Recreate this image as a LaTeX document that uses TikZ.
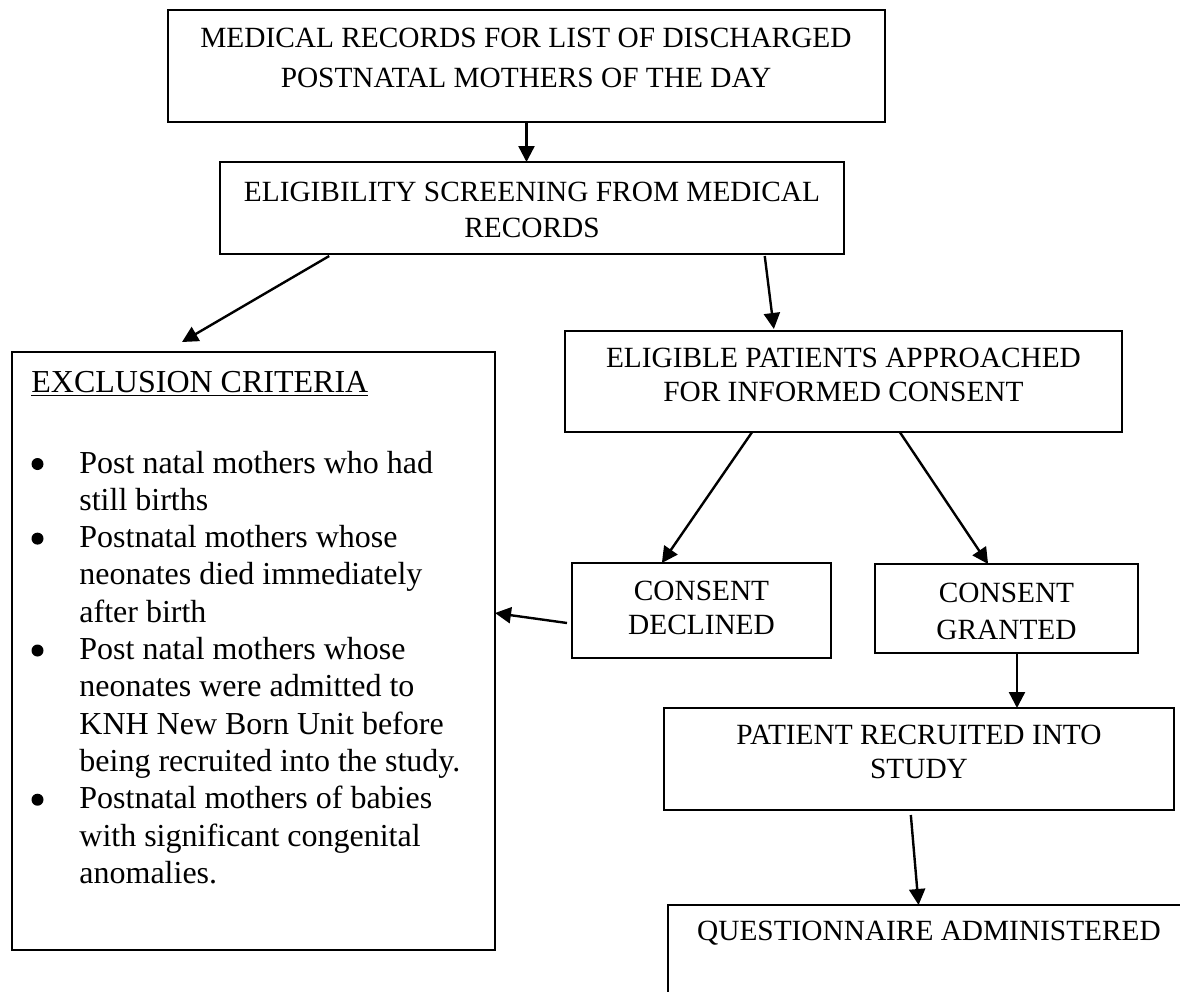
\documentclass[tikz,border=0pt]{standalone}
\usepackage{fontspec}
\setmainfont{Liberation Serif}
\usetikzlibrary{calc,arrows.meta}
\tikzset{
  box/.style={draw, line width=0.9pt, inner sep=0pt, outer sep=0pt},
  txt/.style={align=center, inner sep=0pt, font=\fontsize{14.67}{17}\selectfont},
  ltxt/.style={anchor=base west, inner sep=0pt, font=\fontsize{16}{18.4}\selectfont},
  dot/.style={circle, fill, inner sep=0pt, minimum size=6pt},
  arr/.style={-{Triangle[length=8pt,width=8pt]}, line width=1.2pt},
}
\begin{document}
\begin{tikzpicture}[x=0.5pt,y=-0.5pt]
\clip (0,0) rectangle (1180,992);
\fill[white] (0,0) rectangle (1180,992);
% boxes
\node[box, minimum width=358.5pt, minimum height=56pt] (b1) at (526.5,66) {};
\node[box, minimum width=312pt, minimum height=46pt] (b2) at (532,208) {};
\node[box, minimum width=241.5pt, minimum height=299pt] (b3) at (253.5,651) {};
\node[box, minimum width=278.5pt, minimum height=50.5pt] (b4) at (843.5,381.5) {};
\node[box, minimum width=129.5pt, minimum height=47.5pt] (b5) at (701.5,610.5) {};
\node[box, minimum width=131.5pt, minimum height=44.5pt] (b6) at (1006.5,608.5) {};
\node[box, minimum width=255pt, minimum height=51pt] (b7) at (919,759) {};
\node[box, minimum width=261pt, minimum height=62.5pt] (b8) at (929,967.5) {};
% texts
\node[txt] (t1) at (526,58) {MEDICAL RECORDS FOR LIST OF DISCHARGED\\[3pt]POSTNATAL MOTHERS OF THE DAY};
\node[txt] (t2) at (532,209.5) {ELIGIBILITY SCREENING FROM MEDICAL\\[1pt]RECORDS};
\node[txt] (t4) at (843.5,375) {ELIGIBLE PATIENTS APPROACHED\\FOR INFORMED CONSENT};
\node[txt] (t5) at (701.5,608) {CONSENT\\DECLINED};
\node[txt] (t6) at (1006.5,611) {CONSENT\\[1.5pt]GRANTED};
\node[txt] (t7) at (919,752) {PATIENT RECRUITED INTO\\STUDY};
\node[txt] (t8) at (929,933) {QUESTIONNAIRE ADMINISTERED};
% exclusion criteria
\node[ltxt] (hd) at (31,392) {\underline{EXCLUSION CRITERIA}};
\foreach \t [count=\i from 0] in {Post natal mothers who had, still births, Postnatal mothers whose, neonates died immediately, after birth, Post natal mothers whose, neonates were admitted to, KNH New Born Unit before, being recruited into the study., Postnatal mothers of babies, with significant congenital, anomalies.}
  \node[ltxt] (L\i) at (79,{473+37.3*\i}) {\t};
\foreach \k in {0,2,5,9}
  \node[dot] (d\k) at (37.5,{473+37.3*\k-9}) {};
% arrows
\draw[arr] (b1.south) -- (b1.south |- b2.north);
\draw[arr] ($(b2.south west)!0.175!(b2.south east)+(0,2)$) -- ($(b3.north west)!0.352!(b3.north east)+(0,-10)$);
\draw[arr] ($(b2.south west)!0.873!(b2.south east)+(0,2)$) -- ($(b4.north west)!0.375!(b4.north east)+(0,-2)$);
\draw[arr] ($(b4.south west)!0.336!(b4.south east)$) -- ($(b5.north west)!0.347!(b5.north east)$);
\draw[arr] ($(b4.south west)!0.601!(b4.south east)$) -- ($(b6.north west)!0.43!(b6.north east)$);
\draw[arr] ($(b5.west)+(-5,12.5)$) -- ($(b3.east)+(0,-38)$);
\coordinate (g) at ($(b6.south)+(10.5,0)$);
\draw[arr] (g) -- (g |- b7.north);
\draw[arr] ($(b7.south west)!0.484!(b7.south east)+(0,5)$) -- ($(b8.north west)!0.48!(b8.north east)$);
\end{tikzpicture}
\end{document}
